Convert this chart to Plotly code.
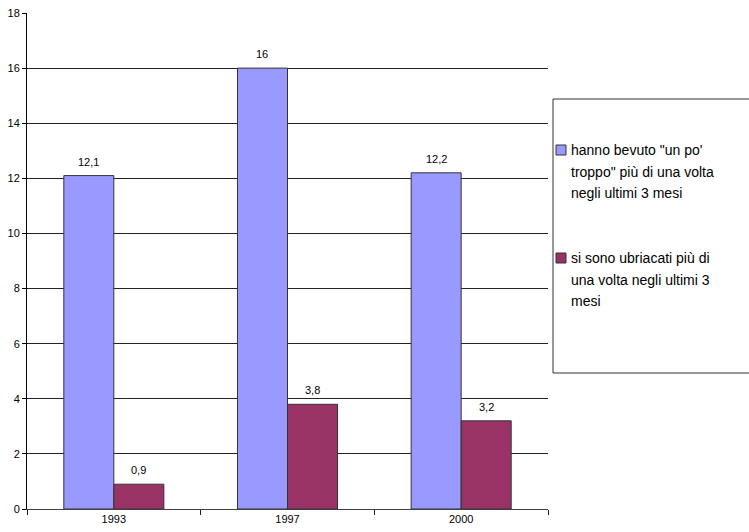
import plotly.graph_objects as go

years = ["1993", "1997", "2000"]
bevuto = [12.1, 16, 12.2]
ubriacati = [0.9, 3.8, 3.2]
series_lines = [
    ['hanno bevuto "un po\'', 'troppo" più di una volta', 'negli ultimi 3 mesi'],
    ['si sono ubriacati più di', 'una volta negli ultimi 3', 'mesi'],
]
series_colors = ["#9999FF", "#993366"]
y_ticks = [0, 2, 4, 6, 8, 10, 12, 14, 16, 18]

W, H = 749, 532
L, R, T, B = 27, 201, 13, 23
PW, PH = W - L - R, H - T - B
BARGAP = 0.424


def it_label(v):
    return f"{v:g}".replace(".", ",")


def px_x(px):
    return (px - L) / PW


def px_y(py):
    return (H - B - py) / PH


font_family = "Liberation Sans, Arial, sans-serif"

fig = go.Figure()
for vals, lines, color in zip([bevuto, ubriacati], series_lines, series_colors):
    fig.add_trace(go.Bar(
        x=years, y=vals, name=" ".join(lines),
        marker=dict(color=color, line=dict(color="#333333", width=1)),
        showlegend=False,
    ))

# value labels above each bar (category index positions, offset to each bar)
bar_w = (1 - BARGAP) / 2
annotations = []
for k, vals in enumerate([bevuto, ubriacati]):
    offset = (k - 0.5) * bar_w
    for i, v in enumerate(vals):
        annotations.append(dict(
            x=i + offset, y=v, xref="x", yref="y", text=it_label(v),
            showarrow=False, yshift=14, font=dict(size=11, color="black"),
        ))

# legend: swatches plus wrapped text lines
shapes = [dict(
    type="rect", xref="paper", yref="paper",
    x0=px_x(553), x1=px_x(770), y0=px_y(373), y1=px_y(99),
    line=dict(color="#333333", width=1), fillcolor="rgba(0,0,0,0)",
)]
first_line_y = [150, 258]
for lines, color, y0 in zip(series_lines, series_colors, first_line_y):
    shapes.append(dict(
        type="rect", xref="paper", yref="paper",
        x0=px_x(556), x1=px_x(566), y0=px_y(y0 + 5), y1=px_y(y0 - 5),
        line=dict(color="#333333", width=1), fillcolor=color,
    ))
    for i, txt in enumerate(lines):
        annotations.append(dict(
            x=px_x(569), y=px_y(y0 + i * 21.7), xref="paper", yref="paper",
            xanchor="left", yanchor="middle", text=txt, showarrow=False,
            font=dict(size=14, color="black", family=font_family),
        ))

fig.update_layout(
    width=W, height=H,
    margin=dict(l=L, r=R, t=T, b=B, pad=0),
    paper_bgcolor="white", plot_bgcolor="white",
    font=dict(family=font_family, size=11, color="black"),
    barmode="group", bargap=BARGAP, bargroupgap=0,
    showlegend=False,
    xaxis=dict(
        type="category", range=[-0.5, len(years) - 0.5],
        showgrid=False, showline=True, automargin=False,
        linecolor="#404040", linewidth=1,
        ticks="outside", tickson="boundaries", ticklen=5, tickcolor="#202020",
        tickfont=dict(size=11),
    ),
    yaxis=dict(
        range=[0, 18], tickvals=y_ticks, showgrid=True, gridcolor="#222222",
        gridwidth=1, showline=True, linecolor="black", linewidth=1,
        automargin=False,
        ticks="outside", ticklen=4, tickcolor="black", zeroline=False,
        tickfont=dict(size=11),
    ),
    shapes=shapes,
    annotations=annotations,
)

fig.write_html("out.html")
